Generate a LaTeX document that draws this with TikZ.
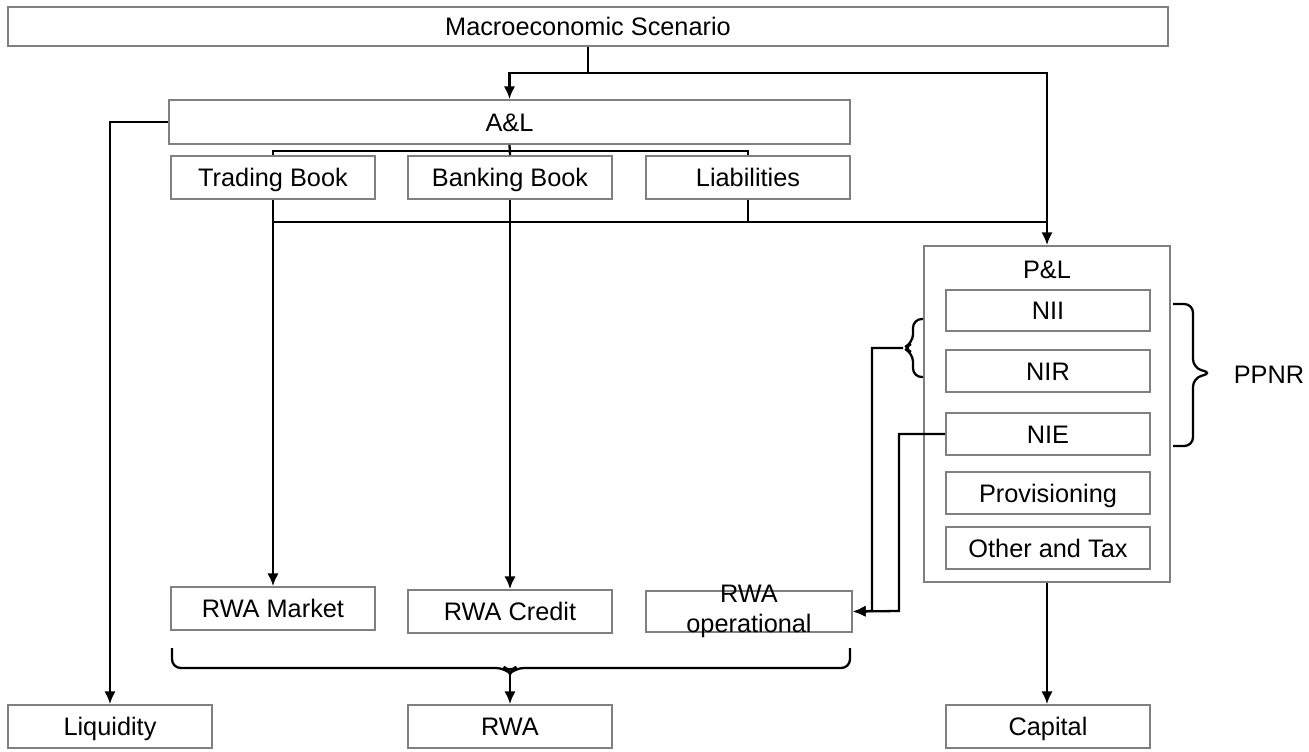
\documentclass[tikz,border=0pt]{standalone}
\usepackage{fontspec}
\setmainfont{Liberation Sans}
\usetikzlibrary{arrows.meta}
\usetikzlibrary{calc}

\tikzset{
    box/.style={draw=gray, line width=0.5pt, minimum width=2.04cm, minimum height=0.43cm,
        inner sep=0pt, text height=0.72em, text depth=0.2em, font=\fontsize{7.2}{8.4}\selectfont},
    link/.style={line width=0.65pt},
    arr/.style={link, -{Latex[length=3.6pt,width=3.2pt]}},
    brace/.style={line width=0.65pt, rounded corners=2.5pt}
}

\begin{document}
\begin{tikzpicture}[x=0.01cm, y=-0.01cm]
        \useasboundingbox (0,0) rectangle (1309,751);

        % Top: scenario and balance sheet
        \node[box, minimum width=11.6cm, minimum height=0.39cm] (macro) at (588,26.5) {Macroeconomic Scenario};
        \node[box, minimum width=6.81cm, minimum height=0.44cm] (al) at (509.5,122) {A\&L};
        \node[box] (tb) at (273,177.5) {Trading Book};
        \node[box] (bb) at (510,177.5) {Banking Book};
        \node[box] (lia) at (748,177.5) {Liabilities};

        % P&L block
        \node[box, minimum width=2.46cm, minimum height=3.36cm] (pl) at (1047,414) {};
        \node[font=\fontsize{7.2}{8.4}\selectfont] (pltitle) at (1047,270) {P\&L};
        \node[box, minimum height=0.41cm] (nii) at (1048,310.5) {NII};
        \node[box, minimum height=0.42cm] (nir) at (1048,371) {NIR};
        \node[box, minimum height=0.42cm] (nie) at (1048,434) {NIE};
        \node[box, minimum height=0.42cm] (prov) at (1048,493) {Provisioning};
        \node[box, minimum height=0.42cm] (oth) at (1048,548) {Other and Tax};
        \node[font=\fontsize{7.2}{8.4}\selectfont] (ppnr) at (1269,375) {PPNR};

        % RWA row
        \node[box] (rwam) at (273,608.5) {RWA Market};
        \node[box] (rwac) at (510,611.5) {RWA Credit};
        \node[box, minimum width=2.06cm, minimum height=0.41cm,
            label={[font=\fontsize{7.2}{8.4}\selectfont, align=center]center:RWA\\operational}] (rwaop) at (749,611.5) {};

        % Bottom row: results
        \node[box] (liq) at (110,726.5) {Liquidity};
        \node[box] (rwa) at (510,726.5) {RWA};
        \node[box] (cap) at (1048,726.5) {Capital};

        % Scenario feeds A&L and P&L
        \draw[link] (macro.south) -- ++(0,26) coordinate (split);
        \draw[arr] (split) -| (al.north);
        \draw[arr] (split) -| (pl.north);

        % A&L split into books
        \draw[link] (al.south) -- (bb.north);
        \draw[link] (tb.north) |- ($(al.south)+(0,6)$) -| (lia.north);

        % Books to P&L
        \coordinate (plbus) at (pl.north |- 0,222);
        \draw[link] (tb.south |- plbus) -- (plbus);
        \draw[link] (lia.south) -- (lia.south |- plbus);

        % Books to RWA
        \draw[arr] (tb.south) -- (rwam.north);
        \draw[arr] (bb.south) -- (rwac.north);
        \draw[arr] (al.west) -| (liq.north);

        % Left brace on NII/NIR
        \draw[brace] (923,319) -- (913,319) -- (913,343) -- (903,348) -- (913,353) -- (913,377) -- (923,377);
        \coordinate (bracel) at (903,348);
        \draw[arr] (bracel) -| (872,611) -- (rwaop.east);
        \draw[arr] (nie.west) -| (899,611) -- (rwaop.east);

        % Right brace: PPNR
        \draw[brace] (1173,304) -- (1193,304) -- (1193,368) -- (1212,373) -- (1193,378) -- (1193,446) -- (1173,446);

        % Bottom brace: RWA
        \draw[brace] (172,648) -- (172,668) -- (505,668) -- (510,673) -- (515,668) -- (850,668) -- (850,648);
        \coordinate (braceb) at (510,673);
        \draw[arr] (braceb) -- (rwa.north);

        % P&L to capital
        \draw[arr] (pl.south) -- (pl.south |- cap.north);

    \end{tikzpicture}
\end{document}
